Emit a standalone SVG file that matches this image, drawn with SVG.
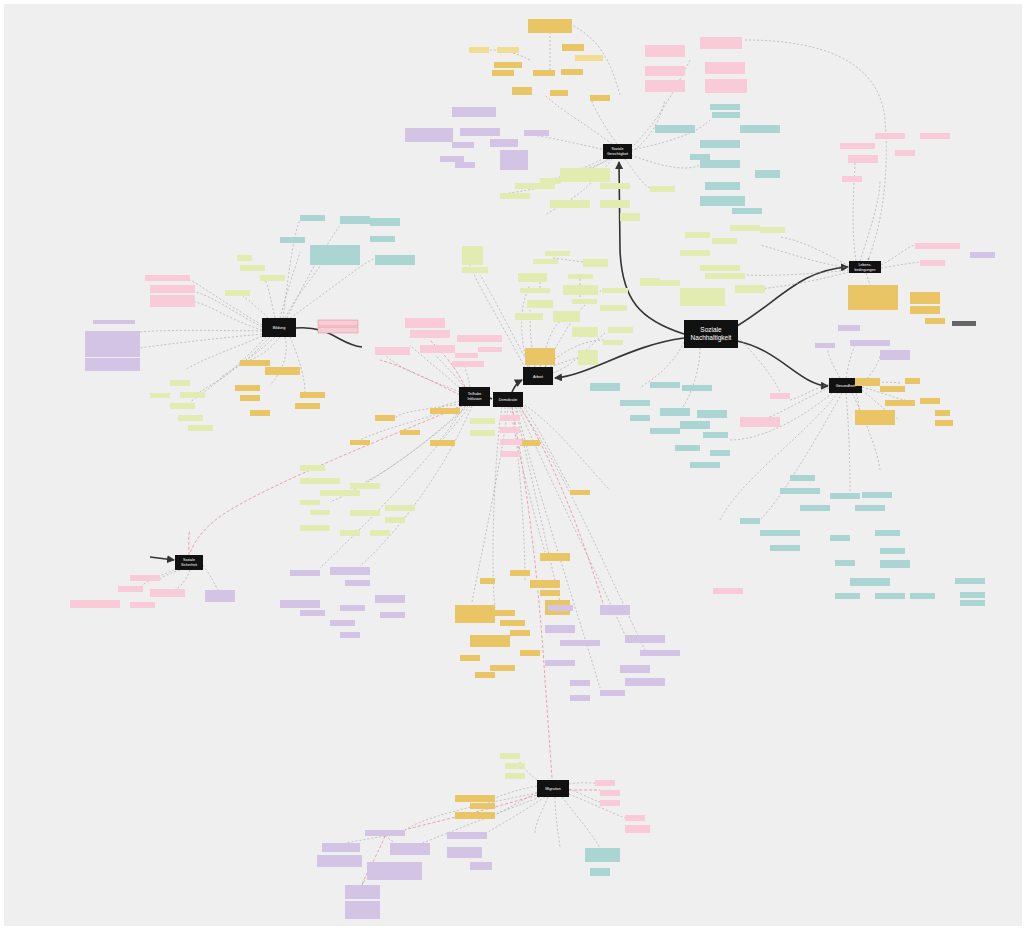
<svg xmlns="http://www.w3.org/2000/svg" width="1026" height="930" viewBox="0 0 1026 930">
<defs>
<marker id="ah" viewBox="0 0 8 8" refX="7" refY="4" markerWidth="5" markerHeight="5" orient="auto"><path d="M0,0L8,4L0,8z" fill="#333"/></marker>
<marker id="as" viewBox="0 0 8 8" refX="7" refY="4" markerWidth="4" markerHeight="4" orient="auto"><path d="M0,0L8,4L0,8z" fill="#999"/></marker>
</defs>
<style>
.y{fill:#eac566}.yl{fill:#f2dc92}.g{fill:#e2ebb0}.t{fill:#aad5d3}.p{fill:#f9cad7}.v{fill:#d3c4e5}.k{fill:#111}.gr{fill:#666}
.e{fill:none;stroke:#a0a0a0;stroke-width:.6;stroke-dasharray:2 2}
.r{fill:none;stroke:#e8808a;stroke-width:.7;stroke-dasharray:3 2}
.h{fill:none;stroke:#333;stroke-width:1.6}
.lbl{font-family:"Liberation Sans",Arial,sans-serif;fill:#fff;text-anchor:middle}
</style>
<rect x="0" y="0" width="1026" height="930" fill="#fff"/>
<rect x="4" y="4" width="1018" height="922" fill="#efefef"/>
<g id="connectors">
<path class="h" d="M684,334 C640,320 622,300 620,250 L619,162" marker-end="url(#ah)"/>
<path class="h" d="M737,326 C780,300 800,270 848,267" marker-end="url(#ah)"/>
<path class="h" d="M737,341 C780,350 800,385 828,386" marker-end="url(#ah)"/>
<path class="h" d="M684,338 C630,345 590,375 555,378" marker-end="url(#ah)"/>
<path class="h" d="M296,328 C330,325 340,345 362,347"/>
<path class="h" d="M512,392 C515,385 520,381 522,380" marker-end="url(#ah)"/>
<path class="h" d="M490,398 L492,399"/>
<path class="h" d="M150,557 L174,560" marker-end="url(#ah)"/>
<g>
<path class="e" d="M617,144 C600,120 590,100 590,95"/><path class="e" d="M612,144 C580,120 560,110 545,95"/><path class="e" d="M606,150 C560,140 540,135 525,135"/>
<path class="e" d="M610,159 C590,170 570,172 560,172"/><path class="e" d="M605,158 C570,175 550,180 540,183"/><path class="e" d="M631,152 C650,140 660,120 665,100"/>
<path class="e" d="M631,148 C660,120 680,80 690,60"/><path class="e" d="M631,150 C680,140 700,130 710,120"/><path class="e" d="M631,155 C670,170 690,170 700,165"/>
<path class="e" d="M612,159 C580,200 560,205 545,215"/><path class="e" d="M608,159 C560,190 520,190 500,195"/><path class="e" d="M625,159 C640,180 645,186 650,188"/>
<path class="e" d="M620,95 C610,60 600,40 572,25"/><path class="e" d="M530,60 C510,50 500,50 490,50"/><path class="e" d="M550,32 L550,70"/>
<path class="e" d="M745,40 C820,40 880,60 885,120 C890,180 880,230 868,260" marker-end="url(#as)"/>
<path class="e" d="M849,266 C820,250 800,240 780,237"/><path class="e" d="M849,268 C810,262 780,250 760,245"/><path class="e" d="M849,270 C800,275 770,276 745,275"/>
<path class="e" d="M849,272 C800,285 760,290 740,290"/><path class="e" d="M860,261 C870,230 880,200 880,180"/><path class="e" d="M856,261 C850,220 855,180 855,162"/>
<path class="e" d="M881,265 C900,255 905,248 915,245"/><path class="e" d="M881,268 C900,265 910,263 920,262"/><path class="e" d="M866,273 C868,280 870,283 870,285"/>
<path class="e" d="M829,384 C810,390 800,398 790,400"/><path class="e" d="M829,388 C800,400 780,415 760,420"/><path class="e" d="M832,393 C800,420 760,440 730,440"/>
<path class="e" d="M838,393 C800,440 740,480 720,520"/><path class="e" d="M842,393 C810,450 780,500 760,520"/><path class="e" d="M846,393 C850,440 850,480 850,492"/>
<path class="e" d="M852,393 C870,430 878,455 880,470"/><path class="e" d="M862,383 C880,382 890,382 900,383"/><path class="e" d="M862,387 C880,392 895,398 905,400"/>
<path class="e" d="M862,390 C880,405 890,415 900,420"/><path class="e" d="M846,378 C848,365 852,352 855,345"/><path class="e" d="M862,385 C875,370 880,360 880,355"/>
<path class="e" d="M840,378 C830,360 828,355 828,350"/><path class="e" d="M856,393 C860,405 858,410 860,412"/>
<path class="e" d="M737,336 C760,360 775,380 780,392"/><path class="e" d="M684,342 C670,370 650,380 640,388"/><path class="e" d="M700,348 C700,370 690,400 680,410"/>
<path class="e" d="M262,325 C220,300 200,285 190,280"/><path class="e" d="M262,327 C230,310 210,295 195,292"/><path class="e" d="M262,330 C230,320 210,305 195,302"/>
<path class="e" d="M262,331 C200,330 160,330 140,332"/><path class="e" d="M262,334 C200,340 160,345 140,348"/><path class="e" d="M268,318 C255,305 245,298 240,293"/>
<path class="e" d="M275,318 C270,295 268,285 265,280"/><path class="e" d="M280,318 C290,280 298,260 300,252"/><path class="e" d="M285,318 C300,290 315,275 320,266"/>
<path class="e" d="M290,318 C330,290 360,265 375,258"/><path class="e" d="M283,318 C290,260 295,230 300,220"/><path class="e" d="M287,318 C310,270 330,240 340,225"/>
<path class="e" d="M280,337 C270,350 258,357 250,360"/><path class="e" d="M275,337 C250,360 230,370 220,378"/><path class="e" d="M270,337 C240,370 210,385 200,392"/>
<path class="e" d="M266,337 C230,375 200,395 190,402"/><path class="e" d="M285,337 C290,355 280,375 270,385"/><path class="e" d="M290,337 C300,360 305,380 305,392"/>
<path class="e" d="M262,336 C230,350 200,360 185,370"/>
<path class="e" d="M460,404 C420,410 400,412 395,418"/><path class="e" d="M460,401 C445,405 440,406 440,408"/><path class="e" d="M465,406 C455,420 445,435 440,440"/>
<path class="e" d="M462,406 C420,420 380,430 360,440"/><path class="e" d="M466,406 C430,440 390,470 365,482"/><path class="e" d="M468,406 C420,450 360,490 330,502"/>
<path class="e" d="M470,406 C420,470 360,530 320,568"/><path class="e" d="M472,406 C440,480 390,540 360,566"/><path class="e" d="M470,387 C468,375 465,370 465,367"/>
<path class="e" d="M465,388 C450,370 440,360 435,355"/><path class="e" d="M462,390 C440,370 420,355 410,345"/><path class="e" d="M460,392 C430,380 400,370 385,355"/>
<path class="e" d="M505,407 L505,415"/><path class="e" d="M510,407 C515,440 535,520 545,552"/><path class="e" d="M512,407 C520,460 525,540 525,580"/>
<path class="e" d="M515,407 C530,470 550,560 560,602"/><path class="e" d="M518,407 C550,480 600,580 625,635"/><path class="e" d="M520,407 C570,480 620,600 645,650"/>
<path class="e" d="M516,407 C540,500 580,620 600,688"/><path class="e" d="M508,407 C500,470 480,560 472,602"/><path class="e" d="M522,404 C540,430 560,470 570,488"/>
<path class="e" d="M502,407 C495,450 490,560 495,608"/><path class="e" d="M525,405 C560,430 590,470 610,490"/>
<path class="e" d="M530,367 C510,330 490,290 480,275"/><path class="e" d="M535,367 C530,340 530,325 530,310"/><path class="e" d="M540,367 C550,330 558,320 562,322"/>
<path class="e" d="M545,367 C570,345 590,340 605,340"/><path class="e" d="M550,367 C570,360 575,358 580,358"/><path class="e" d="M553,373 C575,365 590,345 605,333"/>
<path class="e" d="M528,367 C515,320 525,295 530,285"/><path class="e" d="M525,368 C500,320 480,290 470,265"/><path class="e" d="M545,367 C570,320 580,310 585,305"/>
<path class="e" d="M553,258 L583,262"/><path class="e" d="M540,282 L540,288"/><path class="e" d="M580,279 L580,286"/><path class="e" d="M605,291 L600,291"/><path class="e" d="M580,295 L580,302"/>
<path class="e" d="M537,780 C525,770 520,765 520,762"/><path class="e" d="M537,786 C515,790 500,796 495,798"/><path class="e" d="M537,792 C515,805 500,812 495,815"/>
<path class="e" d="M569,784 C580,782 588,783 595,783"/><path class="e" d="M569,789 C585,795 592,800 600,802"/><path class="e" d="M569,794 C595,805 610,812 625,818"/>
<path class="e" d="M537,793 C450,810 420,820 405,830"/><path class="e" d="M540,797 C480,820 430,840 415,846"/><path class="e" d="M545,797 C510,820 490,830 487,833"/>
<path class="e" d="M548,797 C540,815 535,825 535,833"/><path class="e" d="M555,797 C555,815 558,830 560,848"/><path class="e" d="M562,797 C580,820 595,838 600,848"/>
<path class="e" d="M385,836 L345,843"/><path class="e" d="M385,836 L395,843"/><path class="e" d="M365,880 C362,885 362,885 362,885"/>
<path class="e" d="M180,570 C165,575 160,578 160,580"/><path class="e" d="M178,568 C150,580 138,585 140,590"/><path class="e" d="M190,570 C185,585 175,590 170,592"/>
<path class="e" d="M203,565 C210,575 215,585 218,590"/>
</g>
<path class="r" d="M462,406 C380,440 280,480 230,510 C205,525 195,540 190,553"/>
<path class="r" d="M512,407 C530,500 540,600 545,680 C548,720 550,750 552,778"/>
<path class="r" d="M460,395 C430,380 400,365 380,360"/>
<path class="r" d="M520,407 C560,470 590,560 605,610"/>
<path class="r" d="M569,790 C585,790 592,790 600,790"/>
<path class="r" d="M189,555 C189,545 188,535 190,530"/>
<path class="r" d="M465,387 C455,365 440,350 430,340"/>
<path class="r" d="M537,795 C470,815 420,825 405,830"/><path class="r" d="M385,836 C375,860 365,875 362,885"/>
</g>
<g id="hubs">
<g id="soziale-nachhaltigkeit"><rect class="k" x="684" y="320" width="54" height="28"/><text class="lbl" x="711" y="332" font-size="6.5">Soziale</text><text class="lbl" x="711" y="340" font-size="6.5">Nachhaltigkeit</text></g>
<g id="hub-top"><rect class="k" x="603" y="144" width="29" height="15"/><text class="lbl" x="617.5" y="150" font-size="3.6">Soziale</text><text class="lbl" x="617.5" y="155" font-size="3.6">Gerechtigkeit</text></g>
<g id="hub-rtop"><rect class="k" x="849" y="261" width="32" height="12"/><text class="lbl" x="865" y="266" font-size="3.6">Lebens-</text><text class="lbl" x="865" y="270.5" font-size="3.6">bedingungen</text></g>
<g id="hub-right"><rect class="k" x="829" y="378" width="33" height="15"/><text class="lbl" x="845.5" y="387" font-size="3.8">Gesundheit</text></g>
<g id="hub-left"><rect class="k" x="262" y="318" width="34" height="19"/><text class="lbl" x="279" y="329" font-size="3.8">Bildung</text></g>
<g id="hub-a"><rect class="k" x="459" y="387" width="31" height="19"/><text class="lbl" x="474.5" y="395" font-size="3.6">Teilhabe</text><text class="lbl" x="474.5" y="400" font-size="3.6">Inklusion</text></g>
<g id="hub-b"><rect class="k" x="493" y="392" width="30" height="15"/><text class="lbl" x="508" y="401" font-size="3.6">Demokratie</text></g>
<g id="hub-c"><rect class="k" x="523" y="367" width="30" height="18"/><text class="lbl" x="538" y="378" font-size="3.8">Arbeit</text></g>
<g id="hub-bl"><rect class="k" x="175" y="555" width="28" height="15"/><text class="lbl" x="189" y="561" font-size="3.6">Soziale</text><text class="lbl" x="189" y="566" font-size="3.6">Sicherheit</text></g>
<g id="hub-bottom"><rect class="k" x="537" y="780" width="32" height="17"/><text class="lbl" x="553" y="790" font-size="3.8">Migration</text></g>
<g id="hub-gray"><rect class="gr" x="952" y="321" width="24" height="5"/></g>
</g>
<g id="yellow">
<g id="y1"><rect class="y" x="528" y="19" width="44" height="14"/></g>
<g id="y2"><rect class="yl" x="469" y="47" width="20" height="6"/></g>
<g id="y3"><rect class="yl" x="497" y="47" width="22" height="6"/></g>
<g id="y4"><rect class="y" x="562" y="44" width="22" height="7"/></g>
<g id="y5"><rect class="yl" x="575" y="55" width="28" height="6"/></g>
<g id="y6"><rect class="y" x="494" y="62" width="28" height="6"/></g>
<g id="y7"><rect class="y" x="492" y="70" width="22" height="6"/></g>
<g id="y8"><rect class="y" x="533" y="70" width="22" height="6"/></g>
<g id="y9"><rect class="y" x="561" y="69" width="22" height="6"/></g>
<g id="y10"><rect class="y" x="512" y="87" width="20" height="8"/></g>
<g id="y11"><rect class="y" x="550" y="90" width="18" height="6"/></g>
<g id="y12"><rect class="y" x="590" y="95" width="20" height="6"/></g>
<g id="y13"><rect class="y" x="848" y="285" width="50" height="25"/></g>
<g id="y14"><rect class="y" x="910" y="292" width="30" height="12"/></g>
<g id="y15"><rect class="y" x="910" y="306" width="30" height="8"/></g>
<g id="y16"><rect class="y" x="925" y="318" width="20" height="6"/></g>
<g id="y17"><rect class="y" x="855" y="378" width="25" height="8"/></g>
<g id="y18"><rect class="y" x="880" y="386" width="25" height="6"/></g>
<g id="y19"><rect class="y" x="905" y="378" width="15" height="6"/></g>
<g id="y20"><rect class="y" x="885" y="400" width="30" height="6"/></g>
<g id="y21"><rect class="y" x="920" y="398" width="20" height="6"/></g>
<g id="y22"><rect class="y" x="935" y="410" width="15" height="6"/></g>
<g id="y23"><rect class="y" x="855" y="410" width="40" height="15"/></g>
<g id="y24"><rect class="y" x="935" y="420" width="18" height="6"/></g>
<g id="y25"><rect class="y" x="240" y="360" width="30" height="6"/></g>
<g id="y26"><rect class="y" x="265" y="367" width="35" height="8"/></g>
<g id="y27"><rect class="y" x="235" y="385" width="25" height="6"/></g>
<g id="y28"><rect class="y" x="240" y="395" width="20" height="6"/></g>
<g id="y29"><rect class="y" x="250" y="410" width="20" height="6"/></g>
<g id="y30"><rect class="y" x="300" y="392" width="25" height="6"/></g>
<g id="y31"><rect class="y" x="295" y="403" width="25" height="6"/></g>
<g id="y32"><rect class="y" x="525" y="348" width="30" height="17"/></g>
<g id="y33"><rect class="y" x="430" y="408" width="30" height="6"/></g>
<g id="y34"><rect class="y" x="375" y="415" width="20" height="6"/></g>
<g id="y35"><rect class="y" x="400" y="430" width="20" height="5"/></g>
<g id="y36"><rect class="y" x="430" y="440" width="25" height="6"/></g>
<g id="y37"><rect class="y" x="350" y="440" width="20" height="5"/></g>
<g id="y38"><rect class="y" x="520" y="440" width="20" height="6"/></g>
<g id="y39"><rect class="y" x="570" y="490" width="20" height="5"/></g>
<g id="y40"><rect class="y" x="540" y="553" width="30" height="8"/></g>
<g id="y41"><rect class="y" x="510" y="570" width="20" height="6"/></g>
<g id="y42"><rect class="y" x="530" y="580" width="30" height="8"/></g>
<g id="y43"><rect class="y" x="480" y="578" width="15" height="6"/></g>
<g id="y44"><rect class="y" x="455" y="605" width="40" height="18"/></g>
<g id="y45"><rect class="y" x="490" y="610" width="25" height="6"/></g>
<g id="y46"><rect class="y" x="540" y="590" width="20" height="6"/></g>
<g id="y47"><rect class="y" x="545" y="600" width="25" height="15"/></g>
<g id="y48"><rect class="y" x="500" y="620" width="25" height="6"/></g>
<g id="y49"><rect class="y" x="510" y="630" width="20" height="6"/></g>
<g id="y50"><rect class="y" x="470" y="635" width="40" height="12"/></g>
<g id="y51"><rect class="y" x="460" y="655" width="20" height="6"/></g>
<g id="y52"><rect class="y" x="490" y="665" width="25" height="6"/></g>
<g id="y53"><rect class="y" x="475" y="672" width="20" height="6"/></g>
<g id="y54"><rect class="y" x="520" y="650" width="20" height="6"/></g>
<g id="y55"><rect class="y" x="455" y="795" width="40" height="7"/></g>
<g id="y56"><rect class="y" x="470" y="803" width="25" height="6"/></g>
<g id="y57"><rect class="y" x="455" y="812" width="40" height="7"/></g>
</g>
<g id="green">
<g id="g1"><rect class="g" x="515" y="183" width="40" height="6"/></g>
<g id="g2"><rect class="g" x="540" y="178" width="20" height="6"/></g>
<g id="g3"><rect class="g" x="560" y="168" width="50" height="14"/></g>
<g id="g4"><rect class="g" x="600" y="183" width="30" height="6"/></g>
<g id="g5"><rect class="g" x="550" y="200" width="40" height="8"/></g>
<g id="g6"><rect class="g" x="500" y="193" width="30" height="6"/></g>
<g id="g7"><rect class="g" x="600" y="200" width="30" height="8"/></g>
<g id="g8"><rect class="g" x="620" y="213" width="20" height="8"/></g>
<g id="g9"><rect class="g" x="650" y="186" width="25" height="6"/></g>
<g id="g10"><rect class="g" x="685" y="232" width="25" height="6"/></g>
<g id="g11"><rect class="g" x="712" y="238" width="25" height="6"/></g>
<g id="g12"><rect class="g" x="730" y="225" width="30" height="6"/></g>
<g id="g13"><rect class="g" x="760" y="227" width="25" height="6"/></g>
<g id="g14"><rect class="g" x="680" y="250" width="30" height="6"/></g>
<g id="g15"><rect class="g" x="700" y="265" width="40" height="6"/></g>
<g id="g16"><rect class="g" x="705" y="273" width="40" height="6"/></g>
<g id="g17"><rect class="g" x="680" y="288" width="45" height="18"/></g>
<g id="g18"><rect class="g" x="735" y="285" width="30" height="8"/></g>
<g id="g19"><rect class="g" x="655" y="280" width="25" height="6"/></g>
<g id="g20"><rect class="g" x="237" y="255" width="15" height="6"/></g>
<g id="g21"><rect class="g" x="240" y="265" width="25" height="6"/></g>
<g id="g22"><rect class="g" x="260" y="275" width="25" height="6"/></g>
<g id="g23"><rect class="g" x="225" y="290" width="25" height="6"/></g>
<g id="g24"><rect class="g" x="150" y="393" width="20" height="5"/></g>
<g id="g25"><rect class="g" x="170" y="380" width="20" height="6"/></g>
<g id="g26"><rect class="g" x="180" y="392" width="25" height="6"/></g>
<g id="g27"><rect class="g" x="170" y="403" width="25" height="6"/></g>
<g id="g28"><rect class="g" x="178" y="415" width="25" height="6"/></g>
<g id="g29"><rect class="g" x="188" y="425" width="25" height="6"/></g>
<g id="g30"><rect class="g" x="462" y="246" width="21" height="19"/></g>
<g id="g31"><rect class="g" x="462" y="267" width="26" height="6"/></g>
<g id="g32"><rect class="g" x="545" y="251" width="25" height="5"/></g>
<g id="g33"><rect class="g" x="533" y="259" width="25" height="5"/></g>
<g id="g34"><rect class="g" x="583" y="259" width="25" height="8"/></g>
<g id="g35"><rect class="g" x="518" y="273" width="29" height="9"/></g>
<g id="g36"><rect class="g" x="563" y="285" width="35" height="10"/></g>
<g id="g37"><rect class="g" x="568" y="274" width="25" height="5"/></g>
<g id="g38"><rect class="g" x="520" y="288" width="30" height="5"/></g>
<g id="g39"><rect class="g" x="572" y="299" width="25" height="5"/></g>
<g id="g40"><rect class="g" x="527" y="300" width="26" height="8"/></g>
<g id="g41"><rect class="g" x="515" y="313" width="28" height="7"/></g>
<g id="g42"><rect class="g" x="553" y="311" width="27" height="11"/></g>
<g id="g43"><rect class="g" x="602" y="288" width="26" height="5"/></g>
<g id="g44"><rect class="g" x="600" y="305" width="27" height="6"/></g>
<g id="g45"><rect class="g" x="572" y="327" width="26" height="10"/></g>
<g id="g46"><rect class="g" x="470" y="418" width="25" height="6"/></g>
<g id="g47"><rect class="g" x="470" y="430" width="25" height="6"/></g>
<g id="g48"><rect class="g" x="300" y="465" width="25" height="6"/></g>
<g id="g49"><rect class="g" x="300" y="478" width="40" height="6"/></g>
<g id="g50"><rect class="g" x="320" y="490" width="40" height="6"/></g>
<g id="g51"><rect class="g" x="350" y="483" width="30" height="6"/></g>
<g id="g52"><rect class="g" x="300" y="500" width="20" height="5"/></g>
<g id="g53"><rect class="g" x="310" y="510" width="20" height="5"/></g>
<g id="g54"><rect class="g" x="350" y="510" width="30" height="6"/></g>
<g id="g55"><rect class="g" x="385" y="505" width="30" height="6"/></g>
<g id="g56"><rect class="g" x="385" y="517" width="20" height="6"/></g>
<g id="g57"><rect class="g" x="300" y="525" width="30" height="6"/></g>
<g id="g58"><rect class="g" x="340" y="530" width="20" height="6"/></g>
<g id="g59"><rect class="g" x="370" y="530" width="20" height="6"/></g>
<g id="g60"><rect class="g" x="500" y="753" width="20" height="6"/></g>
<g id="g61"><rect class="g" x="505" y="763" width="20" height="6"/></g>
<g id="g62"><rect class="g" x="505" y="773" width="20" height="6"/></g>
<g id="g63"><rect class="g" x="608" y="327" width="25" height="6"/></g>
<g id="g64"><rect class="g" x="603" y="340" width="20" height="5"/></g>
<g id="g65"><rect class="g" x="578" y="350" width="20" height="15"/></g>
<g id="g66"><rect class="g" x="640" y="278" width="20" height="8"/></g>
</g>
<g id="teal">
<g id="t1"><rect class="t" x="710" y="104" width="30" height="6"/></g>
<g id="t2"><rect class="t" x="712" y="112" width="28" height="6"/></g>
<g id="t3"><rect class="t" x="655" y="125" width="40" height="8"/></g>
<g id="t4"><rect class="t" x="740" y="125" width="40" height="8"/></g>
<g id="t5"><rect class="t" x="700" y="140" width="40" height="8"/></g>
<g id="t6"><rect class="t" x="690" y="154" width="20" height="6"/></g>
<g id="t7"><rect class="t" x="700" y="160" width="40" height="8"/></g>
<g id="t8"><rect class="t" x="755" y="170" width="25" height="8"/></g>
<g id="t9"><rect class="t" x="705" y="182" width="35" height="8"/></g>
<g id="t10"><rect class="t" x="700" y="196" width="45" height="10"/></g>
<g id="t11"><rect class="t" x="732" y="208" width="30" height="6"/></g>
<g id="t12"><rect class="t" x="280" y="237" width="25" height="6"/></g>
<g id="t13"><rect class="t" x="300" y="215" width="25" height="6"/></g>
<g id="t14"><rect class="t" x="340" y="216" width="30" height="8"/></g>
<g id="t15"><rect class="t" x="370" y="218" width="30" height="8"/></g>
<g id="t16"><rect class="t" x="310" y="245" width="50" height="20"/></g>
<g id="t17"><rect class="t" x="370" y="236" width="25" height="6"/></g>
<g id="t18"><rect class="t" x="375" y="255" width="40" height="10"/></g>
<g id="t19"><rect class="t" x="590" y="383" width="30" height="8"/></g>
<g id="t20"><rect class="t" x="650" y="382" width="30" height="6"/></g>
<g id="t21"><rect class="t" x="682" y="385" width="30" height="6"/></g>
<g id="t22"><rect class="t" x="620" y="400" width="30" height="6"/></g>
<g id="t23"><rect class="t" x="660" y="408" width="30" height="8"/></g>
<g id="t24"><rect class="t" x="697" y="410" width="30" height="8"/></g>
<g id="t25"><rect class="t" x="680" y="421" width="30" height="8"/></g>
<g id="t26"><rect class="t" x="630" y="415" width="20" height="6"/></g>
<g id="t27"><rect class="t" x="650" y="428" width="30" height="6"/></g>
<g id="t28"><rect class="t" x="703" y="432" width="25" height="6"/></g>
<g id="t29"><rect class="t" x="675" y="445" width="25" height="6"/></g>
<g id="t30"><rect class="t" x="710" y="450" width="20" height="6"/></g>
<g id="t31"><rect class="t" x="690" y="462" width="30" height="6"/></g>
<g id="t32"><rect class="t" x="790" y="475" width="25" height="6"/></g>
<g id="t33"><rect class="t" x="780" y="488" width="40" height="6"/></g>
<g id="t34"><rect class="t" x="800" y="505" width="30" height="6"/></g>
<g id="t35"><rect class="t" x="830" y="493" width="30" height="6"/></g>
<g id="t36"><rect class="t" x="862" y="492" width="30" height="6"/></g>
<g id="t37"><rect class="t" x="855" y="505" width="30" height="6"/></g>
<g id="t38"><rect class="t" x="740" y="518" width="20" height="6"/></g>
<g id="t39"><rect class="t" x="760" y="530" width="40" height="6"/></g>
<g id="t40"><rect class="t" x="770" y="545" width="30" height="6"/></g>
<g id="t41"><rect class="t" x="830" y="535" width="20" height="6"/></g>
<g id="t42"><rect class="t" x="875" y="530" width="25" height="6"/></g>
<g id="t43"><rect class="t" x="880" y="548" width="25" height="6"/></g>
<g id="t44"><rect class="t" x="835" y="560" width="20" height="6"/></g>
<g id="t45"><rect class="t" x="880" y="560" width="30" height="8"/></g>
<g id="t46"><rect class="t" x="850" y="578" width="40" height="8"/></g>
<g id="t47"><rect class="t" x="835" y="593" width="25" height="6"/></g>
<g id="t48"><rect class="t" x="875" y="593" width="30" height="6"/></g>
<g id="t49"><rect class="t" x="910" y="593" width="25" height="6"/></g>
<g id="t50"><rect class="t" x="955" y="578" width="30" height="6"/></g>
<g id="t51"><rect class="t" x="960" y="592" width="25" height="6"/></g>
<g id="t52"><rect class="t" x="960" y="600" width="25" height="6"/></g>
<g id="t53"><rect class="t" x="585" y="848" width="35" height="14"/></g>
<g id="t54"><rect class="t" x="590" y="868" width="20" height="8"/></g>
</g>
<g id="pink">
<g id="p1"><rect class="p" x="645" y="45" width="40" height="12"/></g>
<g id="p2"><rect class="p" x="700" y="37" width="42" height="12"/></g>
<g id="p3"><rect class="p" x="645" y="66" width="40" height="10"/></g>
<g id="p4"><rect class="p" x="705" y="62" width="40" height="12"/></g>
<g id="p5"><rect class="p" x="645" y="80" width="40" height="12"/></g>
<g id="p6"><rect class="p" x="705" y="79" width="42" height="14"/></g>
<g id="p7"><rect class="p" x="875" y="133" width="30" height="6"/></g>
<g id="p8"><rect class="p" x="920" y="133" width="30" height="6"/></g>
<g id="p9"><rect class="p" x="840" y="143" width="35" height="6"/></g>
<g id="p10"><rect class="p" x="848" y="155" width="30" height="8"/></g>
<g id="p11"><rect class="p" x="895" y="150" width="20" height="6"/></g>
<g id="p12"><rect class="p" x="842" y="176" width="20" height="6"/></g>
<g id="p13"><rect class="p" x="915" y="243" width="45" height="6"/></g>
<g id="p14"><rect class="p" x="920" y="260" width="25" height="6"/></g>
<g id="p15"><rect class="p" x="145" y="275" width="45" height="6"/></g>
<g id="p16"><rect class="p" x="150" y="285" width="45" height="8"/></g>
<g id="p17"><rect class="p" x="150" y="295" width="45" height="12"/></g>
<g id="p18"><rect class="p" x="318" y="320" width="40" height="6" stroke="#d88" stroke-width=".5"/></g>
<g id="p19"><rect class="p" x="318" y="327" width="40" height="6" stroke="#d88" stroke-width=".5"/></g>
<g id="p20"><rect class="p" x="405" y="318" width="40" height="10"/></g>
<g id="p21"><rect class="p" x="410" y="330" width="40" height="8"/></g>
<g id="p22"><rect class="p" x="375" y="347" width="35" height="8"/></g>
<g id="p23"><rect class="p" x="420" y="345" width="35" height="8"/></g>
<g id="p24"><rect class="p" x="457" y="335" width="45" height="7"/></g>
<g id="p25"><rect class="p" x="455" y="353" width="23" height="5"/></g>
<g id="p43"><rect class="p" x="478" y="347" width="24" height="5"/></g>
<g id="p44"><rect class="p" x="452" y="361" width="32" height="6"/></g>
<g id="p26"><rect class="p" x="500" y="415" width="20" height="6"/></g>
<g id="p27"><rect class="p" x="500" y="427" width="20" height="6"/></g>
<g id="p28"><rect class="p" x="500" y="439" width="22" height="6"/></g>
<g id="p29"><rect class="p" x="500" y="451" width="20" height="6"/></g>
<g id="p30"><rect class="p" x="740" y="417" width="40" height="10"/></g>
<g id="p31"><rect class="p" x="770" y="393" width="20" height="6"/></g>
<g id="p32"><rect class="p" x="130" y="575" width="30" height="6"/></g>
<g id="p33"><rect class="p" x="118" y="586" width="25" height="6"/></g>
<g id="p34"><rect class="p" x="70" y="600" width="50" height="8"/></g>
<g id="p35"><rect class="p" x="150" y="589" width="35" height="8"/></g>
<g id="p36"><rect class="p" x="130" y="602" width="25" height="6"/></g>
<g id="p37"><rect class="p" x="713" y="588" width="30" height="6"/></g>
<g id="p38"><rect class="p" x="595" y="780" width="20" height="6"/></g>
<g id="p39"><rect class="p" x="600" y="790" width="20" height="6"/></g>
<g id="p40"><rect class="p" x="600" y="800" width="20" height="6"/></g>
<g id="p41"><rect class="p" x="625" y="815" width="20" height="6"/></g>
<g id="p42"><rect class="p" x="625" y="825" width="25" height="8"/></g>
</g>
<g id="purple">
<g id="v1"><rect class="v" x="452" y="107" width="44" height="10"/></g>
<g id="v2"><rect class="v" x="405" y="128" width="48" height="14"/></g>
<g id="v3"><rect class="v" x="460" y="128" width="40" height="8"/></g>
<g id="v4"><rect class="v" x="524" y="130" width="25" height="6"/></g>
<g id="v5"><rect class="v" x="490" y="139" width="28" height="8"/></g>
<g id="v6"><rect class="v" x="500" y="150" width="28" height="20"/></g>
<g id="v7"><rect class="v" x="452" y="142" width="22" height="6"/></g>
<g id="v8"><rect class="v" x="440" y="156" width="24" height="6"/></g>
<g id="v9"><rect class="v" x="455" y="162" width="20" height="6"/></g>
<g id="v10"><rect class="v" x="970" y="252" width="25" height="6"/></g>
<g id="v11"><rect class="v" x="838" y="325" width="22" height="6"/></g>
<g id="v12"><rect class="v" x="850" y="340" width="40" height="6"/></g>
<g id="v13"><rect class="v" x="880" y="350" width="30" height="10"/></g>
<g id="v14"><rect class="v" x="815" y="343" width="20" height="5"/></g>
<g id="v15"><rect class="v" x="93" y="320" width="42" height="4"/></g>
<g id="v15b"><rect class="v" x="85" y="331" width="55" height="25"/></g>
<g id="v15c"><rect class="v" x="85" y="346" width="55" height="11"/></g>
<g id="v15d"><rect class="v" x="85" y="358" width="55" height="13"/></g>
<g id="v16"><rect class="v" x="290" y="570" width="30" height="6"/></g>
<g id="v17"><rect class="v" x="330" y="567" width="40" height="8"/></g>
<g id="v18"><rect class="v" x="345" y="580" width="25" height="6"/></g>
<g id="v19"><rect class="v" x="280" y="600" width="40" height="8"/></g>
<g id="v20"><rect class="v" x="300" y="610" width="25" height="6"/></g>
<g id="v21"><rect class="v" x="340" y="605" width="25" height="6"/></g>
<g id="v22"><rect class="v" x="375" y="595" width="30" height="8"/></g>
<g id="v23"><rect class="v" x="330" y="620" width="25" height="6"/></g>
<g id="v24"><rect class="v" x="340" y="632" width="20" height="6"/></g>
<g id="v25"><rect class="v" x="380" y="612" width="25" height="6"/></g>
<g id="v26"><rect class="v" x="548" y="605" width="25" height="6"/></g>
<g id="v27"><rect class="v" x="600" y="605" width="30" height="10"/></g>
<g id="v28"><rect class="v" x="545" y="625" width="30" height="8"/></g>
<g id="v29"><rect class="v" x="560" y="640" width="40" height="6"/></g>
<g id="v30"><rect class="v" x="625" y="635" width="40" height="8"/></g>
<g id="v31"><rect class="v" x="545" y="660" width="30" height="6"/></g>
<g id="v32"><rect class="v" x="640" y="650" width="40" height="6"/></g>
<g id="v33"><rect class="v" x="620" y="665" width="30" height="8"/></g>
<g id="v34"><rect class="v" x="625" y="678" width="40" height="8"/></g>
<g id="v35"><rect class="v" x="570" y="680" width="20" height="6"/></g>
<g id="v36"><rect class="v" x="600" y="690" width="25" height="6"/></g>
<g id="v37"><rect class="v" x="570" y="695" width="20" height="6"/></g>
<g id="v38"><rect class="v" x="205" y="590" width="30" height="12"/></g>
<g id="v39"><rect class="v" x="365" y="830" width="40" height="6"/></g>
<g id="v40"><rect class="v" x="322" y="843" width="38" height="9"/></g>
<g id="v41"><rect class="v" x="317" y="855" width="45" height="12"/></g>
<g id="v42"><rect class="v" x="390" y="843" width="40" height="12"/></g>
<g id="v47"><rect class="v" x="367" y="862" width="55" height="18"/></g>
<g id="v43"><rect class="v" x="447" y="832" width="40" height="7"/></g>
<g id="v44"><rect class="v" x="447" y="847" width="35" height="11"/></g>
<g id="v45"><rect class="v" x="470" y="862" width="22" height="8"/></g>
<g id="v46"><rect class="v" x="345" y="885" width="35" height="14"/></g>
<g id="v48"><rect class="v" x="345" y="901" width="35" height="18"/></g>
</g>
</svg>
